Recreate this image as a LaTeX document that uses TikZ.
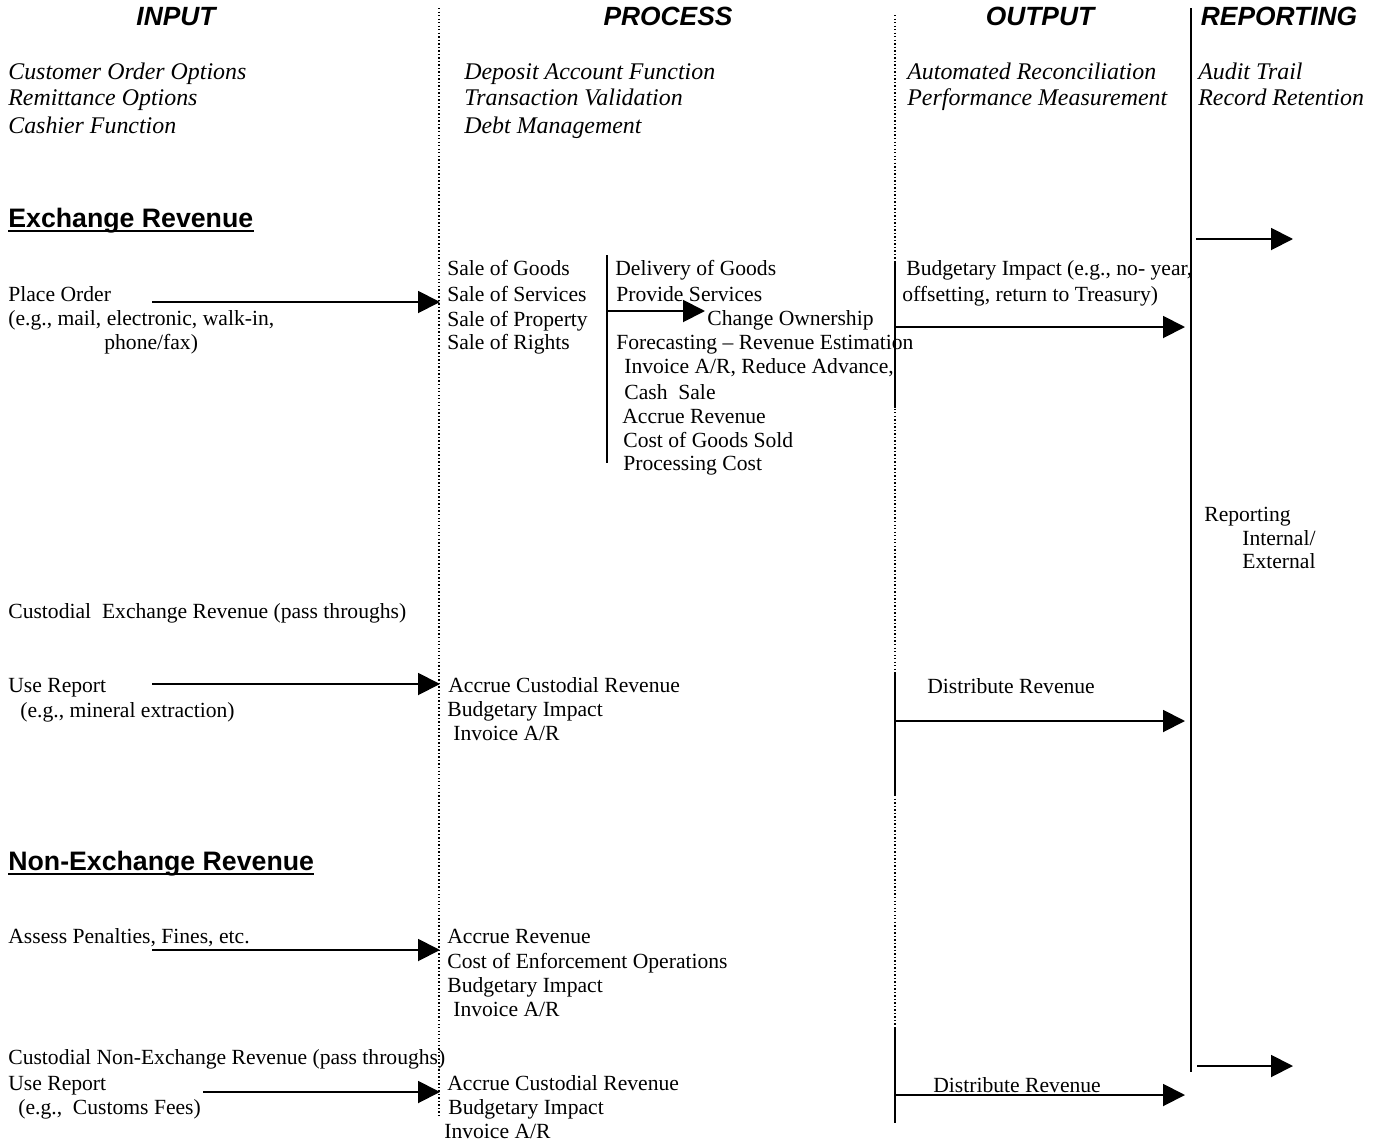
\documentclass[tikz,border=0pt]{standalone}
\usepackage{fontspec}
\setmainfont{Liberation Serif}
\setsansfont{Liberation Sans}
\usetikzlibrary{arrows.meta,positioning}
\tikzset{
  lbl/.style={anchor=base west,inner sep=0pt,font=\fontsize{12.3}{14}\selectfont},
  lblit/.style={anchor=base west,inner sep=0pt,font=\fontsize{13.6}{15}\selectfont\itshape},
  colhead/.style={anchor=base,inner sep=0pt,font=\sffamily\bfseries\itshape\fontsize{15}{18}\selectfont},
  secthead/.style={anchor=base west,inner sep=0pt,font=\sffamily\bfseries\fontsize{15.2}{18}\selectfont},
  flow/.style={line width=1.1pt,-{Triangle[length=0.44cm,width=0.44cm]}},
  divider/.style={line width=0.8pt,dash pattern=on 0.8pt off 1.2pt},
  bar/.style={line width=1.1pt}
}

\begin{document}
\begin{tikzpicture}[x=0.02cm,y=-0.02cm]
  \useasboundingbox (0,0) rectangle (1380,1146);

  % column dividers
  \draw[divider] (439,8) -- (439,1115);
  \draw[divider] (895,15) -- (895,1028);
  \draw[bar] (1191,8) -- (1191,1072);
  \draw[bar] (607,255) -- (607,463);
  \draw[bar] (895,262) -- (895,408);
  \draw[bar] (895,672) -- (895,795);
  \draw[bar] (895,1028) -- (895,1123);

  % column headings
  \node[colhead] (hin) at (176,26) {INPUT};
  \node[colhead] (hproc) at (668,26) {PROCESS};
  \node[colhead] (hout) at (1040,26) {OUTPUT};
  \node[colhead] (hrep) at (1279,26) {REPORTING};

  \node[lblit] (in1) at (8,79) {Customer Order Options};
  \node[lblit] (in2) at (8,105) {Remittance Options};
  \node[lblit] (in3) at (8,133) {Cashier Function};
  \node[lblit] (pr1) at (464,79) {Deposit Account Function};
  \node[lblit] (pr2) at (464,105) {Transaction Validation};
  \node[lblit] (pr3) at (464,133) {Debt Management};
  \node[lblit] (ou1) at (907,79) {Automated Reconciliation};
  \node[lblit] (ou2) at (907,105) {Performance Measurement};
  \node[lblit] (re1) at (1198,79) {Audit Trail};
  \node[lblit] (re2) at (1198,105) {Record Retention};

  % exchange revenue
  \node[secthead] (exch) at (8,227) {Exchange Revenue};
  \draw[bar] ([yshift=-0.08cm]exch.base west) -- ([yshift=-0.08cm]exch.base east);
  \node[lbl] (order) at (8,301) {Place Order};
  \node[lbl] (order2) at (8,325) {(e.g., mail, electronic, walk-in,};
  \node[lbl] (order3) at (104,349) {phone/fax)};

  \node[lbl] (sale1) at (447,275) {Sale of Goods};
  \node[lbl] (sale2) at (447,301) {Sale of Services};
  \node[lbl] (sale3) at (447,326) {Sale of Property};
  \node[lbl] (sale4) at (447,349) {Sale of Rights};

  \node[lbl] (del) at (615,275) {Delivery of Goods};
  \node[lbl] (prov) at (616,301) {Provide Services};
  \node[lbl] (chown) at (707,325) {Change Ownership};
  \node[lbl] (fcst) at (616,349) {Forecasting -- Revenue Estimation};
  \node[lbl] (inv) at (624,373) {Invoice A/R, Reduce Advance,};
  \node[lbl] (cash) at (624,399) {Cash~ Sale};
  \node[lbl] (accr) at (622,423) {Accrue Revenue};
  \node[lbl] (cogs) at (623,447) {Cost of Goods Sold};
  \node[lbl] (proc) at (623,470) {Processing Cost};

  \node[lbl] (budg) at (906,275) {Budgetary Impact (e.g., no- year,};
  \node[lbl] (budg2) at (902,301) {offsetting, return to Treasury)};

  \node[lbl] (rpt) at (1204,521) {Reporting};
  \node[lbl] (rpt2) at (1242,545) {Internal/};
  \node[lbl] (rpt3) at (1242,568) {External};

  % custodial exchange revenue
  \node[lbl] (cust) at (8,618) {Custodial~ Exchange Revenue (pass throughs)};
  \node[lbl] (use) at (8,692) {Use Report};
  \node[lbl] (use2) at (20,717) {(e.g., mineral extraction)};
  \node[lbl] (cacc) at (448,692) {Accrue Custodial Revenue};
  \node[lbl] (cbud) at (447,716) {Budgetary Impact};
  \node[lbl] (cinv) at (453,740) {Invoice A/R};
  \node[lbl] (dist) at (927,693) {Distribute Revenue};

  % non-exchange revenue
  \node[secthead] (nonex) at (8,870) {Non-Exchange Revenue};
  \draw[bar] ([yshift=-0.08cm]nonex.base west) -- ([yshift=-0.08cm]nonex.base east);
  \node[lbl] (fine) at (8,943) {Assess Penalties, Fines, etc.};
  \node[lbl] (nacc) at (447,943) {Accrue Revenue};
  \node[lbl] (nenf) at (447,968) {Cost of Enforcement Operations};
  \node[lbl] (nbud) at (447,992) {Budgetary Impact};
  \node[lbl] (ninv) at (453,1016) {Invoice A/R};

  \node[lbl] (ncust) at (8,1064) {Custodial Non-Exchange Revenue (pass throughs)};
  \node[lbl] (nuse) at (8,1090) {Use Report};
  \node[lbl] (nuse2) at (18,1114) {(e.g.,~ Customs Fees)};
  \node[lbl] (ncacc) at (447,1090) {Accrue Custodial Revenue};
  \node[lbl] (ncbud) at (448,1114) {Budgetary Impact};
  \node[lbl] (ncinv) at (444,1138) {Invoice A/R};
  \node[lbl] (ndist) at (933,1092) {Distribute Revenue};

  % arrows
  \coordinate (po-a) at (152,302);  \coordinate (po-b) at (440,302);
  \coordinate (co-a) at (607,311);  \coordinate (co-b) at (705,311);
  \coordinate (bi-a) at (896,327);  \coordinate (bi-b) at (1185,327);
  \coordinate (rt-a) at (1196,239); \coordinate (rt-b) at (1293,239);
  \coordinate (ur-a) at (152,684);  \coordinate (ur-b) at (440,684);
  \coordinate (dr-a) at (896,721);  \coordinate (dr-b) at (1185,721);
  \coordinate (ap-a) at (152,950);  \coordinate (ap-b) at (440,950);
  \coordinate (nu-a) at (203,1092); \coordinate (nu-b) at (440,1092);
  \coordinate (nd-a) at (896,1095); \coordinate (nd-b) at (1185,1095);
  \coordinate (rb-a) at (1197,1066); \coordinate (rb-b) at (1293,1066);
  \foreach \a in {po,co,bi,rt,ur,dr,ap,nu,nd,rb}
    \draw[flow] (\a-a) -- (\a-b);
\end{tikzpicture}
\end{document}
